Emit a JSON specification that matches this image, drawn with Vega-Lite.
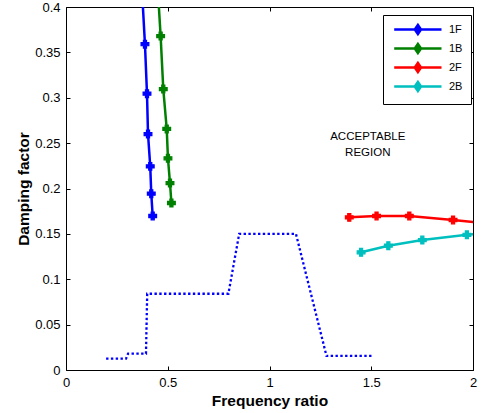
{
  "$schema": "https://vega.github.io/schema/vega-lite/v6.json",
  "width": 407,
  "height": 363,
  "autosize": "none",
  "padding": {"left": 66, "top": 7, "right": 8, "bottom": 43},
  "background": "white",
  "config": {
    "view": {"stroke": "black", "strokeWidth": 1},
    "font": "Liberation Sans",
    "axis": {
      "domain": false,
      "grid": false,
      "tickColor": "black",
      "tickSize": -4,
      "tickWidth": 1,
      "labelFlush": false,
      "labelColor": "black",
      "labelFont": "Liberation Sans",
      "labelFontSize": 13,
      "titleFont": "Liberation Sans",
      "titleFontSize": 15.5,
      "titleFontWeight": "bold",
      "titleColor": "black"
    }
  },
  "datasets": {
    "curves": [
      {"series": "1F", "x": 0.373, "y": 0.42},
      {"series": "1F", "x": 0.388, "y": 0.359},
      {"series": "1F", "x": 0.398, "y": 0.3045},
      {"series": "1F", "x": 0.403, "y": 0.26},
      {"series": "1F", "x": 0.414, "y": 0.2244},
      {"series": "1F", "x": 0.419, "y": 0.1943},
      {"series": "1F", "x": 0.426, "y": 0.1697},
      {"series": "1B", "x": 0.451, "y": 0.42},
      {"series": "1B", "x": 0.465, "y": 0.368},
      {"series": "1B", "x": 0.478, "y": 0.3096},
      {"series": "1B", "x": 0.495, "y": 0.2656},
      {"series": "1B", "x": 0.501, "y": 0.2333},
      {"series": "1B", "x": 0.511, "y": 0.206},
      {"series": "1B", "x": 0.518, "y": 0.184},
      {"series": "2F", "x": 1.392, "y": 0.1682},
      {"series": "2F", "x": 1.526, "y": 0.1697},
      {"series": "2F", "x": 1.687, "y": 0.1697},
      {"series": "2F", "x": 1.902, "y": 0.1653},
      {"series": "2F", "x": 2.1, "y": 0.1607},
      {"series": "2B", "x": 1.45, "y": 0.1297},
      {"series": "2B", "x": 1.584, "y": 0.137},
      {"series": "2B", "x": 1.751, "y": 0.1432},
      {"series": "2B", "x": 1.97, "y": 0.149},
      {"series": "2B", "x": 2.1, "y": 0.151}
    ],
    "boundary": [
      {"x": 0.197, "y": 0.0125},
      {"x": 0.295, "y": 0.0125},
      {"x": 0.305, "y": 0.018},
      {"x": 0.393, "y": 0.018},
      {"x": 0.399, "y": 0.084},
      {"x": 0.798, "y": 0.084},
      {"x": 0.851, "y": 0.15},
      {"x": 1.13, "y": 0.15},
      {"x": 1.28, "y": 0.0155},
      {"x": 1.502, "y": 0.0155}
    ],
    "labels": [
      {"x": 1.483, "y": 0.257, "text": "ACCEPTABLE\nREGION"}
    ]
  },
  "resolve": {"axis": {"x": "independent", "y": "independent"}},
  "layer": [
    {
      "data": {"name": "boundary"},
      "mark": {"type": "line", "color": "#0000ff", "strokeWidth": 2.3, "strokeDash": [2.4, 2.4], "strokeCap": "butt", "clip": true},
      "encoding": {
        "x": {"field": "x", "type": "quantitative", "scale": {"domain": [0, 2], "nice": false, "zero": false},
          "axis": {"orient": "bottom", "values": [0, 0.5, 1, 1.5, 2], "format": "~g", "labelPadding": 10, "title": "Frequency ratio", "titlePadding": 4}},
        "y": {"field": "y", "type": "quantitative", "scale": {"domain": [0, 0.4], "nice": false, "zero": false},
          "axis": {"orient": "left", "values": [0, 0.05, 0.1, 0.15, 0.2, 0.25, 0.3, 0.35, 0.4], "format": "~g", "labelPadding": 10, "title": "Damping factor", "titlePadding": 3}}
      }
    },
    {
      "mark": {"type": "rule", "color": "#0000ff", "strokeWidth": 1.2, "strokeDash": [8, 15, 23, 16], "strokeDashOffset": 52},
      "encoding": {
        "x": {"datum": 1, "type": "quantitative",
          "axis": {"orient": "top", "values": [0, 0.5, 1, 1.5, 2], "labels": false, "title": null}},
        "y": {"datum": 0.4, "type": "quantitative",
          "axis": {"orient": "right", "values": [0, 0.05, 0.1, 0.15, 0.2, 0.25, 0.3, 0.35, 0.4], "labels": false, "title": null}},
        "y2": {"datum": 0}
      }
    },
    {
      "data": {"name": "curves"},
      "mark": {"type": "line", "strokeWidth": 2.5, "clip": true},
      "encoding": {
        "x": {"field": "x", "type": "quantitative", "axis": null},
        "y": {"field": "y", "type": "quantitative", "axis": null},
        "color": {"field": "series", "type": "nominal",
          "scale": {"domain": ["1F", "1B", "2F", "2B"], "range": ["#0000ff", "#008000", "#ff0000", "#00bfbf"]},
          "legend": {
            "title": null,
            "orient": "none",
            "legendX": 317,
            "legendY": 8,
            "padding": 8,
            "fillColor": "white",
            "strokeColor": "black",
            "cornerRadius": 0,
            "symbolType": "M-0.66,0H8.8M4.08,-0.9L4.7,0L4.08,0.9L3.46,0Z",
            "symbolSize": 100,
            "symbolStrokeWidth": 2.5,
            "labelOffset": 45,
            "labelFont": "Liberation Sans",
            "labelFontSize": 11,
            "labelColor": "black",
            "rowPadding": 0,
            "labelExpr": "datum.label + ' '"
          }
        }
      }
    },
    {
      "data": {"name": "curves"},
      "mark": {"type": "point", "shape": "cross", "filled": true, "size": 60, "strokeWidth": 1.2, "opacity": 1, "clip": true},
      "encoding": {
        "x": {"field": "x", "type": "quantitative", "axis": null},
        "y": {"field": "y", "type": "quantitative", "axis": null},
        "color": {"field": "series", "type": "nominal"},
        "stroke": {"field": "series", "type": "nominal", "legend": null,
          "scale": {"domain": ["1F", "1B", "2F", "2B"], "range": ["#0000ff", "#008000", "#ff0000", "#00bfbf"]}}
      }
    },
    {
      "data": {"name": "labels"},
      "mark": {"type": "text", "font": "Liberation Sans", "fontSize": 11.5, "color": "black", "lineBreak": "\n", "lineHeight": 16, "align": "center", "baseline": "middle"},
      "encoding": {
        "x": {"field": "x", "type": "quantitative", "axis": null},
        "y": {"field": "y", "type": "quantitative", "axis": null},
        "text": {"field": "text"}
      }
    }
  ]
}
